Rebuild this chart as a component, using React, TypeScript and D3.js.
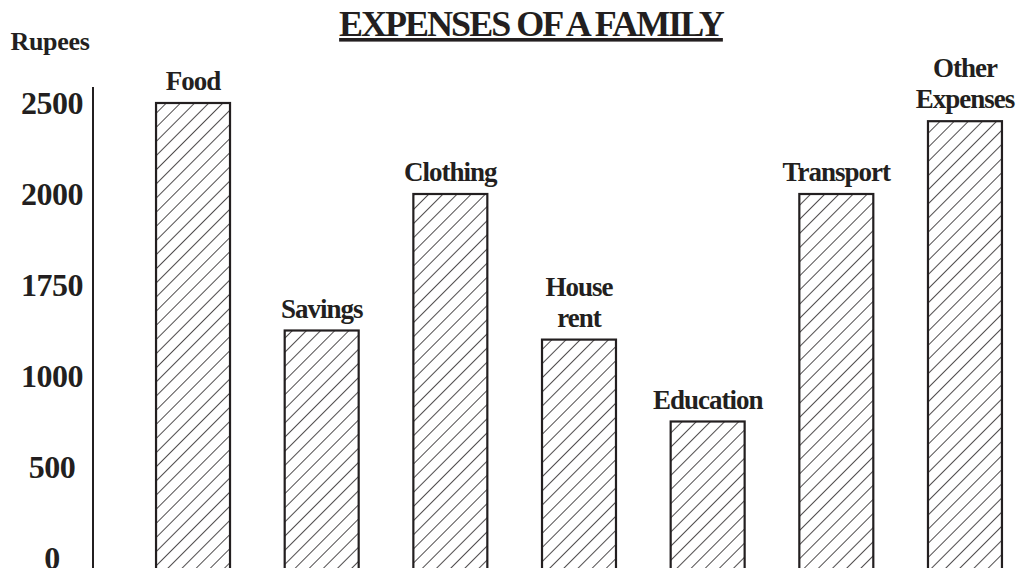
import React from "react";
import * as d3 from "d3";

const categories: string[][] = [
  ["Food"],
  ["Savings"],
  ["Clothing"],
  ["House", "rent"],
  ["Education"],
  ["Transport"],
  ["Other", "Expenses"],
];
const values: number[] = [2500, 1250, 2000, 1200, 750, 2000, 2400];
const tickValues: number[] = [0, 500, 1000, 1500, 2000, 2500];
const tickLabels: string[] = ["0", "500", "1000", "1750", "2000", "2500"];
const title = "EXPENSES OF A FAMILY";
const yTitle = "Rupees";

const W = 1031;
const H = 568;
const INK = "#231f20";
const FONT = "'Liberation Serif', 'Times New Roman', serif";

export default function App() {
  const keys = categories.map((c) => c.join(" "));
  const x = d3
    .scaleBand<string>()
    .domain(keys)
    .range([128.7, 1029.3])
    .paddingInner(0.425)
    .paddingOuter(0.2125);
  const y = d3.scaleLinear().domain([0, 2500]).range([558, 103]);
  const fmt = (v: number) => tickLabels[tickValues.indexOf(v)];

  return (
    <svg
      width={W}
      height={H}
      style={{ position: "absolute", left: 0, top: 0, display: "block", background: "#fff" }}
      fontFamily={FONT}
      fontWeight="bold"
    >
      <defs>
        <pattern
          id="hatch"
          patternUnits="userSpaceOnUse"
          width={10}
          height={10}
          patternTransform="rotate(45)"
        >
          <line x1={0} y1={-1} x2={0} y2={11} stroke={INK} strokeWidth={1.6} />
        </pattern>
      </defs>

      {/* title */}
      <text
        x={531}
        y={36}
        textAnchor="middle"
        fontSize={36}
        letterSpacing={-2}
        fill={INK}
        textDecoration="underline"
      >
        {title}
      </text>

      {/* y axis title */}
      <text x={50} y={50} textAnchor="middle" fontSize={26} letterSpacing={-0.3} fill={INK}>
        {yTitle}
      </text>

      {/* y axis */}
      <line x1={93} x2={93} y1={87} y2={H} stroke={INK} strokeWidth={2} />
      {tickValues.map((v) => (
        <text
          key={v}
          x={52}
          y={y(v)}
          dy="0.35em"
          textAnchor="middle"
          fontSize={32}
          letterSpacing={-0.5}
          fill={INK}
        >
          {fmt(v)}
        </text>
      ))}

      {/* bars */}
      {keys.map((k, i) => {
        const x0 = x(k)!;
        const top = y(values[i]);
        return (
          <g key={k}>
            <rect
              x={x0}
              y={top}
              width={x.bandwidth()}
              height={H + 10 - top}
              fill="url(#hatch)"
              stroke={INK}
              strokeWidth={2.2}
            />
            {categories[i].map((line, j) => (
              <text
                key={j}
                x={x0 + x.bandwidth() / 2}
                y={top - 13 - (categories[i].length - 1 - j) * 31}
                textAnchor="middle"
                fontSize={27}
                letterSpacing={-1}
                fill={INK}
              >
                {line}
              </text>
            ))}
          </g>
        );
      })}
    </svg>
  );
}
